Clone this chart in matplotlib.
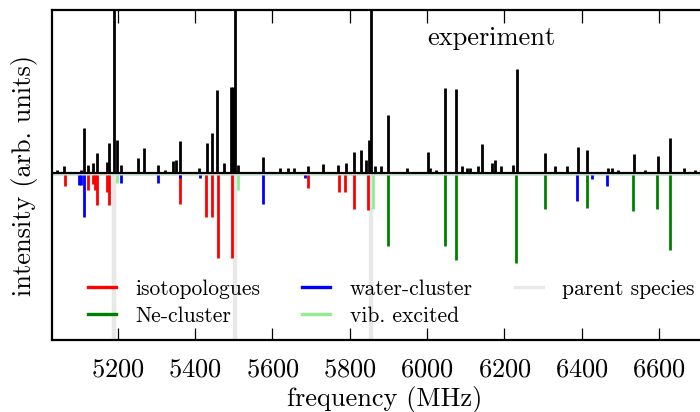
import matplotlib
matplotlib.use("Agg")
import matplotlib.pyplot as plt
from matplotlib.lines import Line2D

plt.rcParams['font.family'] = 'serif'
plt.rcParams['font.serif'] = ['cmr10', 'DejaVu Serif']
plt.rcParams['axes.formatter.use_mathtext'] = True
plt.rcParams['mathtext.fontset'] = 'cm'

# ---- experiment (upward, black) ----
exp_freq = [5044, 5061, 5104, 5114, 5124, 5137, 5146, 5173, 5178, 5190, 5197, 5208,
            5253, 5269, 5303, 5322, 5344, 5350, 5360, 5410, 5430, 5445, 5458, 5476,
            5493, 5499, 5504, 5511, 5577, 5620, 5640, 5655, 5693, 5730, 5770, 5791,
            5811, 5829, 5842, 5851, 5856, 5866, 5881, 5900, 5948, 6002, 6008, 6024,
            6047, 6075, 6090, 6103, 6111, 6132, 6143, 6168, 6175, 6192, 6223, 6232,
            6305, 6331, 6362, 6390, 6415, 6468, 6479, 6494, 6536, 6565, 6598, 6628,
            6664, 6693]
exp_int = [0.02, 0.043, 0.02, 0.276, 0.05, 0.06, 0.123, 0.07, 0.184, 1.5, 0.2, 0.05,
           0.092, 0.153, 0.05, 0.02, 0.074, 0.08, 0.196, 0.03, 0.184, 0.245, 0.51, 0.06,
           0.53, 0.53, 1.5, 0.05, 0.098, 0.03, 0.03, 0.03, 0.04, 0.055, 0.05, 0.061,
           0.129, 0.141, 0.08, 0.2, 1.5, 0.04, 0.04, 0.356, 0.03, 0.129, 0.03, 0.02,
           0.52, 0.515, 0.04, 0.03, 0.03, 0.04, 0.178, 0.06, 0.08, 0.04, 0.05, 0.64,
           0.123, 0.04, 0.04, 0.16, 0.141, 0.03, 0.03, 0.02, 0.117, 0.02, 0.104, 0.215,
           0.03, 0.02]

# ---- simulations (downward) ----
iso_freq = [5063, 5124, 5135, 5140, 5147, 5173, 5178, 5361, 5428, 5445, 5459, 5495,
            5693, 5772, 5789, 5811, 5848]
iso_int = [0.064, 0.089, 0.05, 0.092, 0.181, 0.1, 0.181, 0.177, 0.253, 0.253, 0.508,
           0.508, 0.079, 0.103, 0.103, 0.207, 0.212]

water_freq = [5101, 5106, 5114, 5209, 5303, 5360, 5413, 5577, 5685, 6389, 6427, 6466]
water_int = [0.058, 0.058, 0.253, 0.044, 0.044, 0.015, 0.015, 0.177, 0.017, 0.156,
             0.021, 0.064]

ne_freq = [5898, 6047, 6075, 6231, 6304, 6413, 6533, 6596, 6628]
ne_int = [0.433, 0.433, 0.518, 0.535, 0.206, 0.198, 0.216, 0.206, 0.457]

vib_freq = [5197, 5512, 5861]
vib_int = [0.048, 0.089, 0.207]

parent_freq = [5191, 5504, 5855]

labels = ['isotopologues', 'Ne-cluster', 'water-cluster', 'vib. excited', 'parent species']
colors = ['#ff0000', '#008000', '#0000ff', '#90ee90', '#e8e8e8']

off = 0.015

fig = plt.figure(figsize=(7.0, 4.12), dpi=100)
ax = fig.add_axes([0.0743, 0.1748, 0.95, 0.801])

# parent species (light gray, behind)
ax.vlines(parent_freq, -off, -3, color=colors[4], lw=3.2, zorder=1)
# simulated baseline
ax.axhline(-off, color='#cfe6d7', lw=1.3, zorder=1.5)

sim = [(iso_freq, iso_int, colors[0]), (ne_freq, ne_int, colors[1]),
       (water_freq, water_int, colors[2]), (vib_freq, vib_int, colors[3])]
for fr, it, c in sim:
    ax.vlines(fr, -off, [-off - v for v in it], color=c, lw=2.0, zorder=2)

# experiment
ax.axhline(0, color='black', lw=1.6, zorder=3)
ax.vlines(exp_freq, 0, exp_int, color='black', lw=2.0, zorder=3)

ax.set_xlim(5030, 6750)
ax.set_ylim(-1.025, 1.0)
ax.set_xticks([5200, 5400, 5600, 5800, 6000, 6200, 6400, 6600])
ax.set_yticks([])
ax.tick_params(axis='x', direction='in', top=True, bottom=True, length=9, width=0.9,
               labelsize=19, pad=13)
for s in ax.spines.values():
    s.set_linewidth(1.6)

ax.set_xlabel('frequency (MHz)', fontsize=19, labelpad=3)
ax.set_ylabel('intensity (arb. units)', fontsize=19, labelpad=10)

ax.text(0.565, 0.915, 'experiment', transform=ax.transAxes, fontsize=19, ha='left', va='center')

handles = [Line2D([], [], color=c, lw=2.4) for c in colors]
ax.legend(handles, labels, ncol=3, frameon=False, fontsize=15.5, loc='lower left',
          bbox_to_anchor=(0.025, -0.015), handlelength=1.3, handletextpad=0.9,
          columnspacing=1.95, labelspacing=0.34)

fig.savefig('out.png', dpi=100)
